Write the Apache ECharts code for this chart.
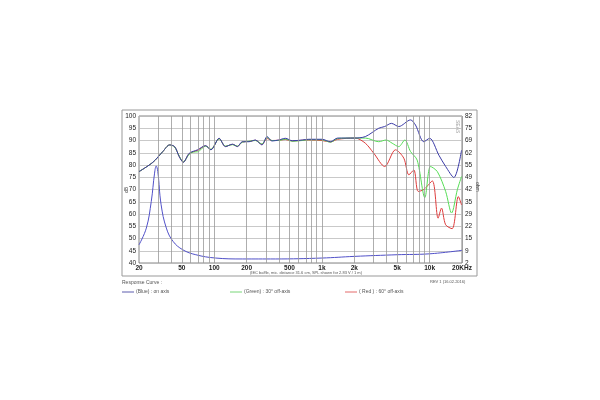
<!DOCTYPE html>
<html>
<head>
<meta charset="utf-8">
<script src="https://cdn.jsdelivr.net/npm/echarts@6/dist/echarts.min.js"></script>
<style>
  html, body { margin: 0; padding: 0; background: #fff; }
  #chart { width: 600px; height: 400px; }
</style>
</head>
<body>
<div id="chart"></div>
<script>
// Frequency response (Hz, dB)
const onAxis = [
  [20, 77.3], [26.9, 81.1], [33.3, 85.5], [38.5, 88.2], [42.9, 87.5], [47.3, 83.4],
  [51.6, 81.1], [58.6, 84.8], [70.1, 86.2], [83, 87.9], [93.1, 86.2], [111, 90.9],
  [127, 87.5], [148, 88.5], [164, 87.5], [182, 89.5], [210, 89.5], [241, 90.2],
  [277, 88.2], [310, 91.6], [343, 89.8], [396, 90.2], [458, 90.9], [531, 89.9],
  [656, 90.2], [755, 90.5], [1000, 90.5], [1200, 89.5], [1400, 91], [2000, 91],
  [2530, 91.6], [3370, 95], [3830, 95.7], [4420, 97], [5170, 95.7], [6650, 98.4],
  [7400, 96.3], [8840, 89.5], [10000, 90.9], [12200, 84], [14100, 79.4],
  [16800, 74.9], [19800, 86]
];
const offAxis30 = [
  [20, 77.3], [26.9, 81.1], [33.3, 85.5], [38.5, 88.2], [42.9, 87.3], [47.3, 83.6],
  [51.6, 81.3], [58.6, 84.4], [64, 85.3], [70.1, 85.4], [83, 87.7], [93.1, 86.4],
  [111, 90.7], [127, 87.7], [148, 88.3], [164, 87.7], [182, 89.3], [210, 89.7],
  [241, 90], [277, 88.6], [310, 91.2], [343, 90], [396, 90], [458, 90.6],
  [531, 89.7], [656, 90], [755, 90.3], [1000, 90.3], [1200, 89.3], [1400, 90.8],
  [2000, 91], [2530, 91], [3370, 89.5], [3940, 90.2], [4490, 88.9], [5170, 87.5],
  [5890, 90.2], [6650, 85.5], [7670, 82], [9040, 66.7], [10200, 79.4],
  [11800, 77.3], [14100, 69.2], [16000, 60.4], [18100, 69.9], [19800, 75.3]
];
const offAxis60 = [
  [20, 77.3], [26.9, 81.1], [33.3, 85.5], [38.5, 88.2], [42.9, 87.4], [47.3, 83.5],
  [51.6, 81.2], [58.6, 84.6], [70.1, 86], [83, 87.8], [93.1, 86.3], [111, 90.8],
  [127, 87.6], [148, 88.4], [164, 87.6], [182, 89.4], [210, 89.6], [241, 90.1],
  [277, 88.4], [310, 90.8], [343, 90], [396, 90.1], [458, 90.4], [531, 89.8],
  [656, 90.1], [755, 90.2], [1000, 90], [1200, 89.4], [1400, 90.5], [2040, 91],
  [2530, 88.9], [3030, 84.8], [3830, 79.4], [4820, 86.2], [5760, 82.8],
  [6420, 76], [7140, 78], [7840, 69.2], [8840, 70], [10600, 73.5], [12000, 58.3],
  [12900, 62.4], [14100, 55.6], [16200, 54], [18500, 67.1], [19800, 63.7]
];
// Impedance (Hz, ohm)
const impedance = [
  [20, 11.9], [23.4, 21], [26, 35.5], [27.9, 50.9], [28.9, 54.8], [29.9, 51.8],
  [32.1, 33.7], [35.9, 21], [41.4, 13.8], [51, 9.2], [67.4, 6.5], [103, 4.7],
  [182, 4.2], [369, 4.2], [1000, 4.7], [2000, 5.6], [5000, 6.5], [10000, 7],
  [20000, 8.9]
];

const gridFreqs = [20, 30, 40, 50, 60, 70, 80, 90, 100, 200, 300, 400, 500, 600, 700, 800, 900,
  1000, 2000, 3000, 4000, 5000, 6000, 7000, 8000, 9000, 10000, 20000];
const freqLabels = [20, 50, 100, 200, 500, 1000, 2000, 5000, 10000, 20000];
const freqLabelText = ['20', '50', '100', '200', '500', '1k', '2k', '5k', '10k', '20KHz'];

const lg = f => Math.log10(f);
const toLog = arr => arr.map(p => [lg(p[0]), p[1]]);

const chart = echarts.init(document.getElementById('chart'));
const font = 'Liberation Sans';
const small = { fill: '#555', fontSize: 5, fontFamily: font };

chart.setOption({
  animation: false,
  grid: { left: 139, right: 138, top: 116, bottom: 137 },
  xAxis: {
    type: 'value', min: lg(20), max: lg(20000),
    splitLine: { show: false },
    axisLine: { show: false },
    axisTick: { show: false },
    axisLabel: {
      customValues: freqLabels.map(lg),
      fontSize: 6.5, color: '#222', fontWeight: 'bold', fontFamily: font, margin: 2,
      formatter: v => {
        const i = freqLabels.findIndex(f => Math.abs(lg(f) - v) < 1e-6);
        return i >= 0 ? freqLabelText[i] : '';
      }
    }
  },
  yAxis: [{
    type: 'value', min: 40, max: 100, interval: 5,
    axisLine: { show: false }, axisTick: { show: false },
    axisLabel: { fontSize: 6.5, color: '#222', fontFamily: font, margin: 3 },
    splitLine: { lineStyle: { color: '#bbb', width: 0.8 } }
  }, {
    type: 'value', min: 2, max: 82, interval: 80 / 12,
    axisLine: { show: false }, axisTick: { show: false },
    axisLabel: { fontSize: 6.5, color: '#222', fontFamily: font, margin: 3,
      formatter: v => Math.round(v) },
    splitLine: { show: false }
  }],
  graphic: [
    { type: 'rect', shape: { x: 122, y: 110, width: 355, height: 166 },
      style: { fill: 'none', stroke: '#999', lineWidth: 1 } },
    { type: 'rect', shape: { x: 139, y: 116, width: 323, height: 147 },
      style: { fill: 'none', stroke: '#666', lineWidth: 0.8 } },
    { type: 'text', x: 124, y: 193, rotation: Math.PI / 2, style: { text: 'dB', ...small, fill: '#333' } },
    { type: 'text', x: 480, y: 182, rotation: -Math.PI / 2, style: { text: 'ohm', ...small, fill: '#333' } },
    { type: 'text', x: 122, y: 280, style: { text: 'Response Curve :', ...small } },
    { type: 'line', shape: { x1: 122, y1: 292, x2: 134, y2: 292 }, style: { stroke: '#33339a', lineWidth: 0.8 } },
    { type: 'text', x: 136, y: 289, style: { text: '(Blue) : on axis', ...small } },
    { type: 'line', shape: { x1: 230, y1: 292, x2: 242, y2: 292 }, style: { stroke: '#55cc55', lineWidth: 0.8 } },
    { type: 'text', x: 244, y: 289, style: { text: '(Green) : 30° off-axis', ...small } },
    { type: 'line', shape: { x1: 345, y1: 292, x2: 357, y2: 292 }, style: { stroke: '#dd4444', lineWidth: 0.8 } },
    { type: 'text', x: 359, y: 289, style: { text: '( Red ) : 60° off-axis', ...small } },
    { type: 'text', x: 250, y: 271, style: { text: '(IEC baffle, mic. distance 31.6 cm, SPL shown for 2.83 V / 1 m)', ...small, fontSize: 4 } },
    { type: 'text', x: 430, y: 280, style: { text: 'REV 1 (16.02.2016)', ...small, fontSize: 4 } },
    { type: 'text', x: 460, y: 120, rotation: -Math.PI / 2, style: { text: 'SEAS', fill: '#999', fontSize: 5, fontFamily: font } }
  ],
  series: [
    {
      type: 'line', name: 'grid', data: [], silent: true,
      markLine: {
        symbol: 'none', silent: true, label: { show: false },
        lineStyle: { color: '#999', width: 0.8, type: 'solid' },
        data: gridFreqs.map(f => ({ xAxis: lg(f) }))
      }
    },
    { type: 'line', name: 'Impedance', yAxisIndex: 1, data: toLog(impedance), smooth: 0.4,
      showSymbol: false, lineStyle: { color: '#5050c8', width: 1 } },
    { type: 'line', name: '60°', data: toLog(offAxis60), smooth: 0.3,
      showSymbol: false, lineStyle: { color: '#dd3b3b', width: 1 } },
    { type: 'line', name: '30°', data: toLog(offAxis30), smooth: 0.3,
      showSymbol: false, lineStyle: { color: '#55dd55', width: 1 } },
    { type: 'line', name: 'on axis', data: toLog(onAxis), smooth: 0.3,
      showSymbol: false, lineStyle: { color: '#3a3aa6', width: 1 } }
  ]
});
</script>
</body>
</html>
